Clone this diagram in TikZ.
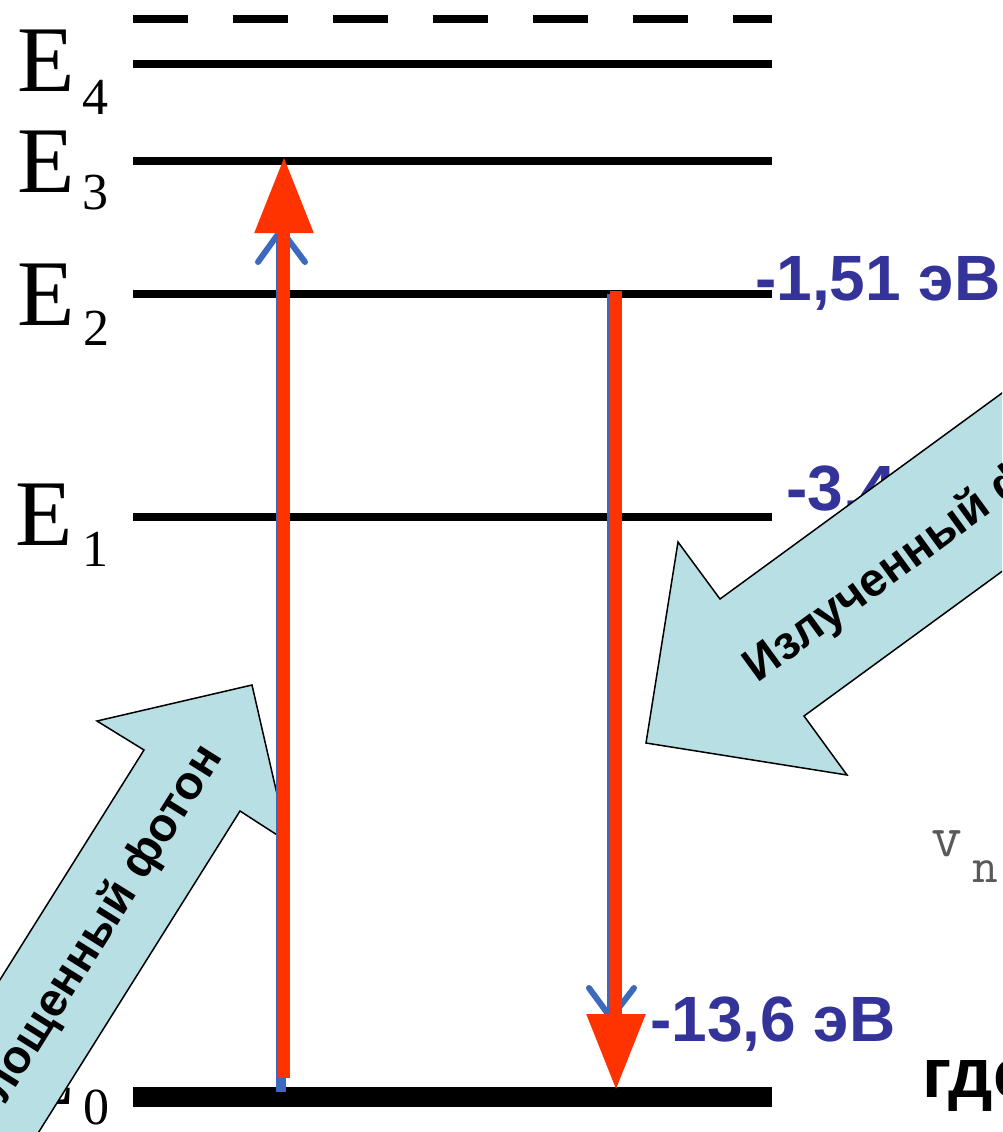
\documentclass[tikz,border=0pt]{standalone}
\usepackage{fontspec}
\setmainfont{Liberation Serif}
\newfontfamily\arialfont{Liberation Sans}
\usetikzlibrary{arrows.meta}
\definecolor{lvblue}{RGB}{51,51,153}
\definecolor{photonfill}{RGB}{184,223,227}
\definecolor{tranred}{RGB}{255,51,0}
\definecolor{tranblue}{RGB}{60,105,190}
\begin{document}
\begin{tikzpicture}[x=1pt,y=1pt,
  level/.style={line width=8pt, black},
  groundlevel/.style={line width=20pt, black},
  elabel/.style={anchor=base west, inner sep=0pt, font=\fontsize{94}{94}\selectfont},
  esub/.style={anchor=base west, inner sep=0pt, font=\fontsize{52}{52}\selectfont},
  evlabel/.style={anchor=base west, inner sep=0pt, text=lvblue, font=\arialfont\bfseries\fontsize{64}{64}\selectfont},
  photon/.style={fill=photonfill, draw=black, line width=1.5pt, line join=miter},
  photontext/.style={font=\arialfont\bfseries\fontsize{47}{47}\selectfont, inner sep=0pt},
  redarrow/.style={draw=tranred, line width=12pt, -{Triangle[length=76pt,width=56pt]}},
  bluetrace/.style={draw=tranblue, line width=10pt},
  bluebarb/.style={draw=tranblue, line width=6pt, line cap=round, line join=round}
]
\useasboundingbox (0,-1132) rectangle (1002,0);
\clip (0,-1132) rectangle (1002,0);
\fill[white] (0,-1132) rectangle (1002,0);

% energy levels
\draw[level, dash pattern=on 55pt off 45pt] (133,-19) -- (772,-19);
\draw[level] (133,-64) coordinate (l4a) -- (772,-64) coordinate (l4b);
\draw[level] (133,-161) coordinate (l3a) -- (772,-161) coordinate (l3b);
\draw[level] (133,-294) coordinate (l2a) -- (772,-294) coordinate (l2b);
\draw[level] (133,-517) coordinate (l1a) -- (772,-517) coordinate (l1b);
\draw[groundlevel] (133,-1097) coordinate (l0a) -- (772,-1097) coordinate (l0b);

% level labels
\node[elabel] (E4) at (17,-92) {E};
\node[esub] (E4s) at (82,-114) {4};
\node[elabel] (E3) at (17,-192) {E};
\node[esub] (E3s) at (82,-209) {3};
\node[elabel] (E2) at (17,-325) {E};
\node[esub] (E2s) at (83,-345) {2};
\node[elabel] (E1) at (15,-545) {E};
\node[esub] (E1s) at (82,-566) {1};
\node[elabel] (E0) at (17,-1104) {E};
\node[esub] (E0s) at (83,-1124) {0};

% energy values
\node[evlabel] (ev2) at (755,-300) {-1,51 эВ};
\node[evlabel] (ev1) at (786,-510) {-3,4 эВ};
\node[evlabel] (ev0) at (650,-1041) {-13,6 эВ};

% other texts
\node[anchor=base west, inner sep=0pt, text=black!65, font=\ttfamily\fontsize{60}{60}\selectfont] (nu) at (931,-856) {v};
\node[anchor=base west, inner sep=0pt, text=black!65, font=\ttfamily\fontsize{50}{50}\selectfont] (nusub) at (972,-882) {n};
\node[anchor=base west, inner sep=0pt, font=\arialfont\bfseries\fontsize{70}{70}\selectfont] (gde) at (922,-1097) {где};

% photon block arrows
\draw[photon] (-121.5,-1173.5) -- (144,-750) -- (97,-721) -- (252,-685) -- (288,-842) -- (240,-811) -- (-25.5,-1234.5) -- cycle;
\node[photontext, rotate=57.9] (absorbtext) at (82,-958) {Поглощенный фотон};
\draw[photon] (1124,-304) -- (720,-599) -- (678,-542) -- (646,-743) -- (847,-775) -- (804,-716) -- (1208,-421) -- cycle;
\node[photontext, rotate=36.1] (emittext) at (933,-540) {Излученный фотон};

% transitions: blue traces
\coordinate (upfrom) at (284,-1078);
\coordinate (upto) at (284,-157);
\coordinate (downfrom) at (616,-291);
\coordinate (downto) at (616,-1090);
\draw[bluetrace] (281,-1092) -- (281,-236);
\draw[bluebarb] (258,-262) -- (281,-230) -- (305,-262);
\draw[bluetrace] (612,-294) -- (612,-1014);
\draw[bluebarb] (589,-988) -- (611,-1018) -- (634,-988);

% transitions: red arrows
\draw[redarrow] (upfrom) -- (upto);
\draw[redarrow] (downfrom) -- (downto);
\end{tikzpicture}
\end{document}
